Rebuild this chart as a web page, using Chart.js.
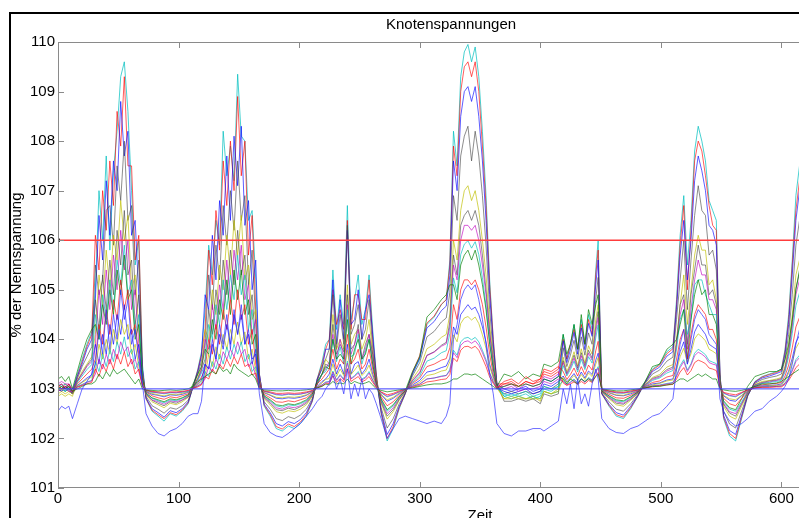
<!DOCTYPE html>
<html>
<head>
<meta charset="utf-8">
<script src="https://cdn.jsdelivr.net/npm/chart.js@4/dist/chart.umd.min.js"></script>
<style>
  html, body { margin: 0; padding: 0; background: #fff; overflow: hidden; }
  #wrap { position: relative; width: 799px; height: 518px; overflow: hidden; }
  #chart { position: absolute; left: 0; top: 0; }
  #rahmen { position: absolute; left: 9px; top: 12px; width: 1000px; height: 1000px;
            border-left: 2px solid #000; border-top: 2px solid #000; pointer-events: none; }
</style>
</head>
<body>
<div id="wrap">
  <canvas id="chart" width="960" height="528"></canvas>
  <div id="rahmen"></div>
</div>
<script>
// Zeitachse (gemeinsam fuer alle Knoten)
const zeit = [0,3,6,9,12, 16,20,24,28,
  31,34,37,40,43,46,49,52,55,58,61,64,67,70,
  73,78,83,88,93,98,103,108, 112,116,119,
  122,125,128,131,134,137,140,143,146,149,152,155,158,161,164,167,
  171,176,181,186,191,196,201,206,211,
  215,219,222,225,228,231,234,237,240,243,246,249,252,255,258,261,264,
  268,273,278,283,288, 294,300,306,312,318,322,325,
  328,331,334,337,340,343,346,349,352,355,358,361,364,
  370,376,382,388,394,400,403,409,415,
  419,422,425,428,431,434,437,440,443,446,448,
  451,457,463,469,475,481,487,493,499,505,510,
  513,516,519,522,525,528,531,534,537,540,543,546,549,
  552,557,562,567,572,578,584,590,596, 600,603,606,609,612,615];

// Knotenspannungen in % der Nennspannung
const cyanA = [103.0,103.05,102.95,103.05,102.95, 103.3,103.6,103.9,104.15,
  105.0,107.0,106.0,107.7,105.8,107.4,108.2,109.3,109.6,108.6,107.0,105.5,106.0,103.5,
  102.8,102.55,102.45,102.35,102.5,102.45,102.55,102.7, 103.05,103.4,103.75,
  104.6,105.9,105.3,106.4,105.9,108.2,107.3,107.9,107.2,109.35,108.1,108.0,106.4,106.6,105.2,103.3,
  102.65,102.45,102.2,102.15,102.25,102.2,102.3,102.45,102.75,
  103.2,103.55,103.9,104.0,105.4,104.2,104.9,104.3,106.7,104.4,104.8,105.3,104.3,104.6,105.3,104.2,103.3,
  102.5,101.95,102.2,102.6,102.9, 103.3,103.6,104.3,104.45,104.7,104.8,105.6,
  108.2,107.5,109.3,109.8,109.95,109.6,109.9,109.3,108.2,106.9,105.2,104.0,103.1,
  102.85,102.8,102.85,102.8,102.85,102.8,102.95,102.9,102.95,
  104.1,103.6,103.9,104.3,103.8,104.4,103.9,104.5,104.2,105.4,106.0,
  102.9,102.65,102.45,102.4,102.6,102.85,103.15,103.4,103.5,103.75,103.85,
  104.8,106.1,106.9,105.5,106.4,107.8,108.3,108.0,107.6,106.8,106.6,106.4,103.3,
  102.4,102.05,101.95,102.4,102.85,103.15,103.25,103.3,103.35, 103.4,103.8,104.5,105.6,106.9,107.5];

const rotA = [103.1,103.0,103.1,103.05,102.9, 103.25,103.55,103.85,104.1,
  106.1,105.4,107.0,106.2,107.6,106.7,108.6,107.9,109.3,107.5,107.5,105.6,106.1,103.4,
  102.8,102.57,102.48,102.4,102.52,102.48,102.57,102.72, 103.05,103.38,103.7,
  104.2,105.8,105.1,106.6,105.8,107.6,106.7,108.0,107.0,108.9,107.3,108.0,105.7,106.5,104.6,103.3,
  102.67,102.48,102.24,102.19,102.29,102.24,102.33,102.48,102.76,
  103.2,103.5,103.8,104.0,105.0,104.3,104.6,104.2,106.4,104.2,104.9,104.9,104.4,104.4,105.2,104.0,103.3,
  102.52,102.0,102.24,102.62,102.9, 103.33,103.67,104.33,104.47,104.71,104.8,105.5,
  107.9,107.3,109.0,109.5,109.6,109.3,109.6,109.0,107.9,106.7,105.1,104.0,103.1,
  103.1,103.15,103.05,103.15,103.1,103.2,103.35,103.3,103.4,
  104.0,103.6,103.9,104.2,103.8,104.3,103.9,104.4,104.1,105.3,105.8,
  102.9,102.67,102.48,102.43,102.62,102.86,103.14,103.38,103.48,103.71,103.81,
  104.7,105.9,106.7,105.0,106.2,107.6,108.0,107.8,107.3,106.7,106.3,106.2,103.3,
  102.43,102.1,102.0,102.43,102.86,103.14,103.24,103.29,103.33, 103.38,103.76,104.4,105.5,106.6,107.2];

const blauA = [103.05,103.1,103.0,103.1,102.95, 103.25,103.5,103.8,104.0,
  104.8,106.5,105.6,107.2,106.1,107.6,107.0,108.8,107.7,108.2,106.1,106.4,104.9,103.4,
  102.82,102.6,102.52,102.43,102.56,102.52,102.6,102.74, 103.04,103.35,103.66,
  104.9,104.6,106.1,105.2,106.8,106.1,107.7,106.4,108.1,107.1,108.3,106.3,106.8,105.0,105.6,103.3,
  102.69,102.52,102.3,102.25,102.34,102.3,102.38,102.52,102.78,
  103.2,103.4,103.8,103.8,105.2,103.9,104.8,104.0,106.2,104.3,104.4,105.0,104.0,104.6,104.9,104.1,103.2,
  102.56,102.08,102.3,102.65,102.91, 103.31,103.62,104.23,104.36,104.58,104.67,105.29,
  107.6,107.0,108.5,109.0,109.1,108.8,109.1,108.5,107.6,106.4,104.9,103.9,103.1,
  103.0,102.95,103.0,103.05,102.95,103.0,103.2,103.15,103.25,
  103.97,103.53,103.79,104.14,103.7,104.23,103.79,104.32,104.06,105.1,105.6,
  102.91,102.69,102.52,102.47,102.65,102.87,103.13,103.35,103.44,103.66,103.75,
  104.6,105.7,106.4,105.2,106.0,107.2,107.7,107.4,107.0,106.3,106.2,105.9,103.3,
  102.47,102.16,102.08,102.47,102.87,103.13,103.22,103.26,103.31, 103.35,103.7,104.3,105.3,106.4,107.0];

const grauA = [102.95,103.0,102.95,103.0,102.9, 103.2,103.45,103.65,103.85,
  105.5,104.9,105.2,106.6,106.7,105.9,107.5,106.8,108.0,106.4,106.7,104.9,105.6,103.3,
  102.85,102.66,102.59,102.51,102.62,102.59,102.66,102.77, 103.04,103.3,103.56,
  103.9,105.3,104.6,105.9,105.2,106.7,105.9,107.0,106.2,107.6,106.4,106.9,105.1,105.8,104.3,103.2,
  102.74,102.59,102.4,102.36,102.44,102.4,102.47,102.59,102.81,
  103.15,103.45,103.6,103.8,104.9,103.8,104.5,103.9,106.3,104.1,104.3,104.7,104.0,104.2,104.8,103.8,103.2,
  102.62,102.21,102.4,102.7,102.92, 103.26,103.53,104.05,104.16,104.35,104.43,104.95,
  106.9,106.4,107.7,108.1,108.3,107.6,108.2,107.7,106.9,105.9,104.6,103.7,103.1,
  102.75,102.75,102.8,102.75,102.8,102.7,102.9,102.85,102.9,
  103.83,103.45,103.68,103.98,103.6,104.05,103.68,104.13,103.9,104.8,105.25,
  102.92,102.74,102.59,102.55,102.7,102.89,103.11,103.3,103.38,103.56,103.64,
  104.4,105.2,106.0,104.6,105.6,106.5,107.1,106.6,106.5,105.7,105.8,105.4,103.2,
  102.55,102.29,102.21,102.55,102.89,103.11,103.19,103.23,103.26, 103.3,103.6,104.1,104.9,105.9,106.4];

const gelbA = [102.85,102.9,102.85,102.9,102.85, 103.15,103.35,103.5,103.65,
  104.1,105.3,104.7,105.8,105.0,106.1,105.6,106.8,106.0,106.5,105.0,105.3,104.2,103.3,
  102.88,102.74,102.68,102.62,102.71,102.68,102.74,102.83, 103.03,103.23,103.44,
  104.2,104.0,105.0,104.5,105.5,105.0,106.1,105.3,106.4,105.7,106.5,105.2,105.5,104.4,104.6,103.2,
  102.8,102.68,102.54,102.51,102.56,102.54,102.59,102.68,102.85,
  103.1,103.3,103.6,103.5,104.5,103.8,104.0,103.8,105.1,103.9,104.1,104.2,103.8,104.0,104.4,103.7,103.2,
  102.71,102.39,102.54,102.77,102.94, 103.2,103.41,103.81,103.9,104.04,104.1,104.51,
  106.0,105.6,106.6,107.0,107.1,106.8,107.0,106.6,106.0,105.3,104.3,103.6,103.05,
  102.8,102.85,102.8,102.8,102.85,102.75,102.95,102.9,103.0,
  103.64,103.35,103.52,103.75,103.46,103.81,103.52,103.87,103.7,104.4,104.7,
  102.94,102.8,102.68,102.65,102.77,102.91,103.09,103.23,103.29,103.44,103.49,
  104.0,104.7,105.3,104.3,105.0,105.7,106.1,105.8,105.8,105.1,105.2,104.8,103.2,
  102.65,102.45,102.39,102.65,102.91,103.09,103.15,103.17,103.2, 103.23,103.46,103.87,104.5,105.3,105.6];

const grauB = [103.0,102.95,103.05,102.95,102.9, 103.16,103.31,103.47,103.6,
  104.8,104.2,105.3,104.6,105.6,104.9,106.2,105.5,106.6,105.3,105.6,104.3,104.9,103.25,
  102.9,102.77,102.71,102.66,102.74,102.71,102.77,102.84, 103.03,103.21,103.39,
  103.6,104.6,104.1,105.0,104.5,105.6,104.9,105.8,105.1,106.2,105.3,105.7,104.5,104.9,103.9,103.15,
  102.82,102.71,102.58,102.56,102.61,102.58,102.64,102.71,102.87,
  103.1,103.3,103.5,103.45,104.3,103.7,103.9,103.75,104.9,103.8,103.9,104.3,103.6,103.9,104.1,103.7,103.15,
  102.74,102.45,102.58,102.79,102.95, 103.16,103.31,103.68,103.75,103.88,103.94,104.35,
  105.7,105.3,106.3,106.5,106.6,106.4,106.6,106.3,105.7,105.0,104.15,103.5,103.05,
  102.9,102.95,102.9,102.95,102.9,102.95,103.05,103.0,103.1,
  103.57,103.31,103.47,103.68,103.42,103.73,103.47,103.78,103.62,104.25,104.56,
  102.95,102.82,102.71,102.69,102.79,102.92,103.08,103.21,103.26,103.39,103.44,
  103.9,104.7,104.9,103.9,104.9,105.4,105.9,105.5,105.5,104.9,105.0,104.7,103.16,
  102.69,102.51,102.45,102.69,102.92,103.08,103.13,103.16,103.18, 103.21,103.42,103.78,104.35,105.03,105.34];

const magentaA = [103.1,103.15,103.1,103.1,103.0, 103.15,103.3,103.45,103.55,
  103.9,105.0,104.3,105.4,104.6,105.7,105.0,106.2,105.4,106.0,104.6,105.0,103.9,103.2,
  102.9,102.78,102.74,102.69,102.76,102.74,102.78,102.86, 103.02,103.19,103.36,
  104.0,103.8,104.7,104.2,105.1,104.6,105.6,104.8,105.8,105.2,105.9,104.8,105.1,104.1,104.4,103.15,
  102.83,102.74,102.62,102.59,102.64,102.62,102.66,102.74,102.88,
  103.1,103.3,103.4,103.55,104.1,103.6,104.0,103.6,104.7,103.7,103.9,104.2,103.6,103.8,104.1,103.6,103.15,
  102.76,102.5,102.62,102.81,102.95, 103.17,103.34,103.67,103.74,103.86,103.91,104.25,
  105.5,105.2,106.0,106.3,106.3,106.2,106.3,106.0,105.5,104.9,104.1,103.5,103.05,
  103.05,103.1,103.0,103.1,103.05,103.1,103.25,103.2,103.3,
  103.53,103.29,103.43,103.62,103.38,103.67,103.43,103.72,103.58,104.15,104.44,
  102.95,102.83,102.74,102.71,102.81,102.93,103.07,103.19,103.24,103.36,103.41,
  103.9,104.5,104.8,103.8,104.6,105.2,105.6,105.3,105.3,104.8,104.8,104.6,103.15,
  102.71,102.54,102.5,102.71,102.93,103.07,103.12,103.14,103.17, 103.19,103.38,103.72,104.25,104.9,105.2];

const cyanB = [103.1,103.05,103.1,103.0,102.95, 103.13,103.26,103.39,103.49,
  104.5,104.0,104.9,104.4,105.2,104.6,105.6,105.1,105.9,104.9,105.2,104.1,104.5,103.2,
  102.91,102.81,102.76,102.72,102.78,102.76,102.81,102.87, 103.02,103.17,103.32,
  103.5,104.3,104.0,104.7,104.3,105.2,104.6,105.3,104.8,105.7,104.9,105.3,104.2,104.6,103.7,103.1,
  102.85,102.76,102.66,102.63,102.68,102.66,102.7,102.76,102.89,
  103.09,103.3,103.35,103.5,104.0,103.55,103.85,103.5,104.6,103.65,103.7,104.1,103.5,103.75,104.0,103.5,103.13,
  102.78,102.55,102.66,102.83,102.96, 103.13,103.26,103.56,103.62,103.73,103.77,104.12,
  105.24,104.94,105.71,105.92,105.99,105.84,105.97,105.71,105.24,104.68,103.95,103.43,103.04,
  102.85,102.9,102.85,102.9,102.8,102.85,103.0,102.95,103.05,
  103.47,103.26,103.39,103.56,103.34,103.6,103.39,103.65,103.52,104.03,104.29,
  102.96,102.85,102.76,102.74,102.83,102.94,103.06,103.17,103.22,103.32,103.37,
  103.8,104.4,104.6,104.1,104.4,105.1,105.2,105.2,104.9,104.7,104.5,104.5,103.13,
  102.74,102.59,102.55,102.74,102.94,103.06,103.11,103.13,103.15, 103.17,103.34,103.65,104.12,104.68,104.94];

const gruenA = [103.2,103.25,103.15,103.25,103.0, 103.35,103.7,104.0,104.2,
  104.3,104.0,104.7,104.3,105.0,104.5,105.4,104.9,105.7,104.8,105.0,104.0,104.3,103.2,
  102.92,102.82,102.78,102.74,102.8,102.78,102.82,102.88, 103.1,103.3,103.45,
  103.8,103.7,104.4,104.0,104.8,104.4,105.2,104.5,105.4,104.8,105.4,104.5,104.8,103.9,104.1,103.1,
  102.86,102.78,102.68,102.66,102.7,102.68,102.72,102.78,102.9,
  103.15,103.3,103.45,103.4,104.0,103.6,103.7,103.6,104.4,103.5,103.8,104.0,103.6,103.7,104.0,103.5,103.1,
  102.8,102.58,102.68,102.84,102.96, 103.35,103.65,104.45,104.6,104.8,104.9,105.1,
  105.1,104.8,105.5,105.7,105.8,105.6,105.8,105.5,105.1,104.6,103.9,103.4,103.05,
  103.3,103.25,103.35,103.2,103.3,103.25,103.5,103.45,103.55,
  104.1,103.7,103.9,104.3,103.8,104.5,103.9,104.6,104.3,104.7,104.9,
  102.96,102.86,102.78,102.76,102.84,102.94,103.15,103.45,103.5,103.8,103.9,
  104.0,104.3,104.6,103.6,104.4,104.9,105.2,104.9,105.0,104.5,104.5,104.3,103.15,
  102.76,102.62,102.58,102.8,103.05,103.25,103.3,103.35,103.35, 103.4,103.6,103.9,104.4,105.0,105.4];

const rotB = [103.05,103.1,103.0,103.1,102.95, 103.1,103.2,103.3,103.4,
  103.6,104.3,103.9,104.6,104.1,104.8,104.4,105.2,104.6,105.0,104.1,104.3,103.7,103.15,
  102.94,102.86,102.82,102.79,102.84,102.82,102.86,102.9, 103.02,103.13,103.24,
  103.4,104.0,103.7,104.3,103.9,104.6,104.2,104.8,104.3,105.0,104.4,104.7,103.9,104.2,103.5,103.1,
  102.89,102.82,102.74,102.73,102.76,102.74,102.78,102.82,102.92,
  103.1,103.2,103.3,103.4,103.8,103.4,103.6,103.5,104.1,103.5,103.6,103.8,103.4,103.5,103.8,103.4,103.1,
  102.84,102.66,102.74,102.87,102.97, 103.11,103.22,103.45,103.5,103.58,103.61,103.83,
  104.7,104.4,105.0,105.2,105.2,105.1,105.2,105.0,104.7,104.25,103.7,103.3,103.03,
  103.15,103.2,103.1,103.25,103.15,103.2,103.4,103.35,103.45,
  103.35,103.19,103.29,103.42,103.26,103.45,103.29,103.48,103.38,103.77,103.96,
  102.97,102.89,102.82,102.81,102.87,102.95,103.05,103.13,103.16,103.24,103.27,
  103.6,104.0,104.2,103.6,104.1,104.5,104.7,104.6,104.5,104.2,104.2,104.0,103.1,
  102.81,102.7,102.66,102.81,102.95,103.05,103.08,103.1,103.11, 103.13,103.26,103.48,103.83,104.25,104.44];

const blauB = [103.0,102.95,103.05,103.0,102.9, 103.07,103.14,103.22,103.28,
  103.9,103.5,104.1,103.7,104.3,103.9,104.5,104.1,104.7,104.0,104.2,103.6,103.9,103.1,
  102.95,102.89,102.87,102.84,102.88,102.87,102.89,102.93, 103.01,103.1,103.18,
  103.5,103.4,103.9,103.6,104.1,103.8,104.3,103.9,104.5,104.1,104.5,103.9,104.1,103.6,103.7,103.07,
  102.92,102.87,102.81,102.8,102.82,102.81,102.83,102.87,102.94,
  103.05,103.15,103.2,103.3,103.6,103.3,103.5,103.3,103.9,103.3,103.5,103.55,103.3,103.4,103.6,103.3,103.07,
  102.88,102.75,102.81,102.9,102.98, 103.08,103.17,103.34,103.37,103.43,103.46,103.62,
  104.25,104.1,104.5,104.6,104.7,104.6,104.65,104.5,104.25,103.95,103.5,103.25,103.02,
  102.95,102.9,102.95,103.0,102.9,102.95,103.1,103.05,103.15,
  103.26,103.14,103.22,103.31,103.19,103.34,103.22,103.36,103.29,103.58,103.72,
  102.98,102.92,102.87,102.86,102.9,102.96,103.04,103.1,103.12,103.18,103.2,
  103.45,103.75,103.95,103.5,103.8,104.15,104.3,104.2,104.1,103.9,103.85,103.8,103.07,
  102.86,102.77,102.75,102.86,102.96,103.04,103.06,103.07,103.08, 103.1,103.19,103.36,103.62,103.94,104.08];

const gelbB = [102.9,102.95,102.9,102.95,102.9, 103.06,103.13,103.19,103.24,
  103.4,103.9,103.6,104.0,103.7,104.2,103.9,104.4,104.1,104.3,103.7,103.9,103.45,103.1,
  102.96,102.91,102.88,102.86,102.89,102.88,102.91,102.94, 103.01,103.08,103.16,
  103.25,103.7,103.45,103.85,103.6,104.1,103.8,104.2,103.9,104.35,103.9,104.15,103.6,103.8,103.35,103.06,
  102.93,102.88,102.83,102.82,102.84,102.83,102.85,102.88,102.95,
  103.04,103.12,103.19,103.21,103.5,103.25,103.4,103.27,103.78,103.29,103.38,103.48,103.27,103.34,103.48,103.25,103.06,
  102.89,102.78,102.83,102.92,102.98, 103.06,103.13,103.27,103.3,103.36,103.38,103.55,
  104.09,103.95,104.32,104.43,104.46,104.39,104.45,104.32,104.09,103.82,103.46,103.21,103.02,
  102.8,102.8,102.85,102.8,102.8,102.8,102.95,102.9,102.95,
  103.23,103.13,103.19,103.27,103.17,103.29,103.19,103.32,103.25,103.5,103.63,
  102.98,102.93,102.88,102.87,102.92,102.97,103.03,103.08,103.11,103.16,103.18,
  103.38,103.65,103.82,103.53,103.71,104.01,104.11,104.05,103.97,103.8,103.76,103.71,103.06,
  102.87,102.8,102.78,102.87,102.97,103.03,103.05,103.06,103.07, 103.08,103.17,103.32,103.55,103.82,103.95];

const cyanC = [103.0,103.0,102.95,103.0,102.95, 103.05,103.09,103.14,103.17,
  103.55,103.35,103.7,103.45,103.8,103.55,103.95,103.7,104.05,103.65,103.8,103.4,103.55,103.08,
  102.97,102.93,102.92,102.9,102.92,102.92,102.93,102.95, 103.01,103.06,103.11,
  103.35,103.25,103.55,103.4,103.7,103.5,103.85,103.6,103.9,103.7,103.95,103.55,103.7,103.35,103.45,103.05,
  102.95,102.92,102.88,102.87,102.89,102.88,102.89,102.92,102.96,
  103.03,103.08,103.14,103.15,103.36,103.18,103.29,103.2,103.56,103.21,103.27,103.35,103.2,103.24,103.35,103.18,103.05,
  102.92,102.84,102.88,102.94,102.98, 103.05,103.09,103.2,103.22,103.26,103.27,103.39,
  103.78,103.68,103.95,104.02,104.04,103.99,104.04,103.95,103.78,103.59,103.33,103.15,103.02,
  102.9,102.85,102.9,102.95,102.85,102.9,103.05,103.0,103.05,
  103.17,103.09,103.14,103.2,103.12,103.21,103.14,103.23,103.18,103.36,103.45,
  102.98,102.95,102.92,102.91,102.94,102.98,103.02,103.06,103.08,103.11,103.13,
  103.27,103.47,103.59,103.38,103.51,103.72,103.8,103.75,103.69,103.57,103.54,103.51,103.05,
  102.91,102.86,102.84,102.91,102.98,103.02,103.04,103.05,103.05, 103.06,103.12,103.23,103.39,103.59,103.68];

const magentaB = [102.95,103.0,103.0,102.95,102.95, 103.04,103.08,103.13,103.16,
  103.3,103.6,103.4,103.7,103.5,103.8,103.6,103.95,103.75,103.85,103.5,103.6,103.35,103.07,
  102.97,102.94,102.92,102.91,102.93,102.92,102.94,102.96, 103.01,103.06,103.1,
  103.2,103.45,103.35,103.6,103.45,103.75,103.6,103.8,103.65,103.95,103.7,103.8,103.45,103.55,103.25,103.04,
  102.95,102.92,102.89,102.88,102.9,102.89,102.9,102.92,102.96,
  103.03,103.08,103.13,103.14,103.34,103.17,103.27,103.18,103.52,103.2,103.25,103.32,103.18,103.22,103.32,103.17,103.04,
  102.93,102.85,102.89,102.94,102.99, 103.05,103.1,103.2,103.22,103.25,103.27,103.36,
  103.73,103.63,103.88,103.95,103.97,103.92,103.97,103.88,103.73,103.55,103.31,103.14,103.01,
  103.0,103.05,102.95,103.0,103.0,103.05,103.15,103.1,103.2,
  103.15,103.08,103.13,103.18,103.11,103.2,103.13,103.21,103.17,103.34,103.42,
  102.99,102.95,102.92,102.92,102.94,102.98,103.02,103.06,103.07,103.1,103.12,
  103.25,103.43,103.55,103.35,103.48,103.67,103.74,103.7,103.64,103.53,103.5,103.48,103.04,
  102.92,102.87,102.85,102.92,102.98,103.02,103.04,103.04,103.05, 103.06,103.11,103.21,103.36,103.55,103.63];

const rotC = [103.05,103.0,103.05,103.0,102.95, 103.03,103.07,103.1,103.13,
  103.4,103.25,103.5,103.35,103.6,103.4,103.7,103.5,103.75,103.45,103.6,103.3,103.4,103.05,
  102.98,102.95,102.94,102.93,102.94,102.94,102.95,102.97, 103.01,103.04,103.08,
  103.25,103.2,103.4,103.3,103.5,103.4,103.6,103.45,103.65,103.5,103.7,103.45,103.5,103.28,103.32,103.03,
  102.96,102.94,102.91,102.91,102.92,102.91,102.92,102.94,102.97,
  103.02,103.06,103.1,103.11,103.26,103.13,103.21,103.14,103.41,103.15,103.2,103.25,103.14,103.18,103.25,103.13,103.03,
  102.94,102.88,102.91,102.96,102.99, 103.03,103.07,103.14,103.16,103.19,103.2,103.29,
  103.62,103.55,103.78,103.85,103.86,103.82,103.86,103.78,103.62,103.45,103.24,103.11,103.01,
  103.1,103.1,103.05,103.15,103.1,103.15,103.3,103.25,103.35,
  103.12,103.07,103.1,103.14,103.09,103.15,103.1,103.17,103.13,103.26,103.33,
  102.99,102.96,102.94,102.93,102.96,102.98,103.02,103.04,103.06,103.08,103.09,
  103.2,103.34,103.43,103.28,103.37,103.53,103.58,103.55,103.51,103.42,103.4,103.37,103.03,
  102.93,102.9,102.88,102.93,102.98,103.02,103.03,103.03,103.04, 103.04,103.09,103.17,103.29,103.43,103.5];

const gruenB = [103.0,103.05,103.0,103.05,102.95, 103.0,103.05,103.1,103.1,
  103.15,103.3,103.2,103.35,103.25,103.4,103.3,103.35,103.4,103.3,103.2,103.1,103.2,103.0,
  102.98,102.97,102.96,102.97,102.98,102.97,102.98,103.0, 103.05,103.15,103.2,
  103.25,103.3,103.35,103.3,103.45,103.35,103.4,103.3,103.5,103.4,103.35,103.3,103.25,103.3,103.2,103.0,
  102.98,102.97,102.96,102.96,102.97,102.96,102.97,102.98,103.0,
  103.02,103.05,103.1,103.08,103.15,103.1,103.12,103.1,103.2,103.1,103.15,103.12,103.1,103.12,103.15,103.08,103.0,
  102.97,102.94,102.96,102.98,103.0, 103.02,103.05,103.08,103.1,103.1,103.12,103.15,
  103.2,103.2,103.25,103.3,103.3,103.28,103.3,103.25,103.2,103.15,103.1,103.05,103.0,
  103.05,103.1,103.05,103.1,103.05,103.1,103.2,103.15,103.25,
  103.2,103.1,103.2,103.15,103.1,103.2,103.15,103.2,103.15,103.25,103.3,
  103.0,102.98,102.96,102.96,102.98,103.0,103.02,103.05,103.05,103.08,103.1,
  103.15,103.2,103.2,103.15,103.2,103.25,103.3,103.25,103.3,103.25,103.2,103.2,103.0,
  102.98,102.96,102.95,102.97,103.0,103.05,103.1,103.1,103.12, 103.15,103.2,103.25,103.3,103.35,103.4];

const blauC = [102.55,102.65,102.6,102.65,102.4, 102.7,103.0,103.15,103.3,
  103.5,104.2,103.7,104.6,103.8,104.5,104.0,105.0,104.4,104.8,103.9,104.2,103.6,103.1,
  102.5,102.25,102.1,102.05,102.15,102.2,102.3,102.45, 102.5,102.5,102.75,
  103.5,103.4,104.0,103.6,104.3,103.9,104.5,103.8,104.6,104.1,104.7,103.9,104.2,103.5,103.8,102.9,
  102.3,102.12,102.05,102.02,102.1,102.2,102.3,102.45,102.6,
  102.75,102.85,103.0,103.1,103.3,103.0,103.2,102.9,103.4,102.8,103.1,102.85,103.2,102.8,103.0,102.9,102.7,
  102.4,102.0,102.2,102.4,102.45, 102.4,102.35,102.3,102.35,102.3,102.45,102.7,
  104.0,104.3,104.8,105.0,105.1,105.0,105.1,104.8,104.4,103.9,103.3,102.9,102.3,
  102.1,102.05,102.15,102.15,102.2,102.2,102.15,102.25,102.35,
  103.0,102.7,103.1,102.6,103.2,102.7,102.9,102.65,103.1,103.4,103.2,
  102.4,102.2,102.12,102.1,102.2,102.25,102.35,102.45,102.5,102.65,102.8,
  103.4,103.9,104.2,103.5,104.0,104.4,104.6,104.5,104.4,104.1,104.0,103.9,102.8,
  102.55,102.35,102.25,102.3,102.4,102.55,102.6,102.75,102.85, 102.95,103.05,103.2,103.5,103.9,104.2];

// Grenzwerte
const obereGrenze = 106;
const untereGrenze = 103;

const reihen = [
  [blauC, 'rgba(40,40,255,0.85)'],
  [gruenB, 'rgba(0,128,0,0.85)'],
  [rotC, 'rgba(255,0,0,0.8)'],
  [magentaB, 'rgba(191,0,191,0.8)'],
  [cyanC, 'rgba(0,191,191,0.85)'],
  [gelbB, 'rgba(191,191,0,0.85)'],
  [blauB, 'rgba(0,0,255,0.8)'],
  [rotB, 'rgba(255,0,0,0.8)'],
  [gruenA, 'rgba(0,128,0,0.85)'],
  [cyanB, 'rgba(0,191,191,0.85)'],
  [magentaA, 'rgba(191,0,191,0.8)'],
  [grauB, 'rgba(64,64,64,0.75)'],
  [gelbA, 'rgba(191,191,0,0.85)'],
  [grauA, 'rgba(64,64,64,0.75)'],
  [blauA, 'rgba(0,0,255,0.8)'],
  [rotA, 'rgba(255,0,0,0.8)'],
  [cyanA, 'rgba(0,191,191,0.9)']
];

const schrift = "'Liberation Sans', Arial, Helvetica, sans-serif";
const achsenFarbe = '#8a8a8a';

// Achsenrahmen und nach innen zeigende Striche wie in MATLAB
const achsenRahmen = {
  id: 'achsenRahmen',
  afterDatasetsDraw(chart) {
    const { ctx, chartArea: a, scales: { x, y } } = chart;
    ctx.save();
    ctx.strokeStyle = achsenFarbe;
    ctx.lineWidth = 1;
    ctx.beginPath();
    ctx.moveTo(a.left + 0.5, a.top); ctx.lineTo(a.left + 0.5, a.bottom);
    ctx.moveTo(a.left, a.top + 0.5); ctx.lineTo(a.right, a.top + 0.5);
    ctx.moveTo(a.left, a.bottom - 0.5); ctx.lineTo(a.right, a.bottom - 0.5);
    ctx.moveTo(a.right - 0.5, a.top); ctx.lineTo(a.right - 0.5, a.bottom);
    x.ticks.forEach(t => {
      const px = Math.round(x.getPixelForValue(t.value)) + 0.5;
      ctx.moveTo(px, a.bottom); ctx.lineTo(px, a.bottom - 6);
      ctx.moveTo(px, a.top); ctx.lineTo(px, a.top + 6);
    });
    y.ticks.forEach(t => {
      const py = Math.round(y.getPixelForValue(t.value)) + 0.5;
      ctx.moveTo(a.left, py); ctx.lineTo(a.left + 6, py);
      ctx.moveTo(a.right, py); ctx.lineTo(a.right - 6, py);
    });
    ctx.stroke();
    ctx.restore();
  }
};

const datasets = [
  {
    data: [{ x: 0, y: obereGrenze }, { x: 700, y: obereGrenze }],
    borderColor: 'rgb(255,60,60)', borderWidth: 1.6,
    pointRadius: [2.5, 0], pointStyle: 'rect',
    pointBackgroundColor: '#000', pointBorderColor: '#000', pointBorderWidth: 0
  },
  {
    data: [{ x: 0, y: untereGrenze }, { x: 700, y: untereGrenze }],
    borderColor: 'rgb(60,60,255)', borderWidth: 1, pointRadius: 0
  }
];
reihen.forEach(([werte, farbe]) => {
  datasets.push({
    data: werte,
    borderColor: farbe,
    borderWidth: 0.8,
    pointRadius: 0,
    tension: 0
  });
});

new Chart(document.getElementById('chart'), {
  type: 'line',
  data: { labels: zeit, datasets: datasets },
  options: {
    responsive: false,
    animation: false,
    events: [],
    layout: { padding: { left: 0, right: 58, top: 0, bottom: 0 } },
    plugins: {
      legend: { display: false },
      tooltip: { enabled: false },
      title: {
        display: true,
        text: 'Knotenspannungen',
        color: '#000',
        font: { family: schrift, size: 15, weight: 'normal' },
        padding: { top: 16, bottom: 8 }
      }
    },
    scales: {
      x: {
        type: 'linear',
        min: 0, max: 700,
        afterFit(s) { s.height = 40; },
        grid: { display: false, drawTicks: false },
        border: { display: false },
        ticks: { stepSize: 100, padding: 2, color: '#000', maxRotation: 0,
                 font: { family: schrift, size: 15 } },
        title: { display: true, text: 'Zeit', color: '#000',
                 font: { family: schrift, size: 15 }, padding: { top: 0, bottom: 3 } }
      },
      y: {
        min: 101, max: 110,
        afterFit(s) { s.width = 58; },
        grid: { display: false, drawTicks: false },
        border: { display: false },
        ticks: { stepSize: 1, padding: 3, color: '#000',
                 font: { family: schrift, size: 15 } },
        title: { display: true, text: '% der Nennspannung', color: '#000',
                 font: { family: schrift, size: 15 }, padding: { top: 8, bottom: 0 } }
      }
    }
  },
  plugins: [achsenRahmen]
});
</script>
</body>
</html>
